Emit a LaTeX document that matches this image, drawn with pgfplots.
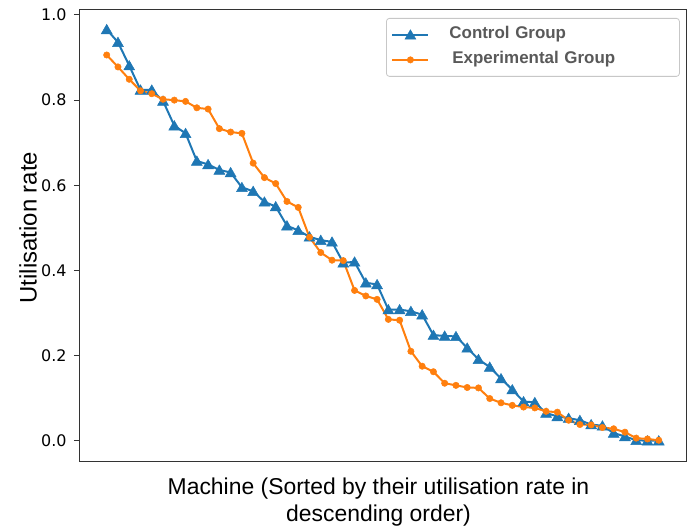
\documentclass[border=0pt]{standalone}
\usepackage{pgfplots}
\pgfplotsset{compat=1.18}
\usepackage{fontspec}
\setmainfont{Liberation Sans}
\newfontfamily\dejavu{DejaVu Sans}
\definecolor{mplblue}{HTML}{1F77B4}
\definecolor{mplorange}{HTML}{FF7F0E}
\definecolor{leggray}{HTML}{595959}
\definecolor{framegray}{HTML}{333333}
\begin{document}
\begin{tikzpicture}
\useasboundingbox (0,0) rectangle (696bp,528bp);
\begin{axis}[
  at={(79bp,67bp)}, anchor=south west,
  scale only axis, width=607bp, height=451.5bp,
  xmin=-1.459, xmax=52.42, ymin=-0.0477, ymax=1.0129,
  xtick=\empty,
  ytick={0,0.2,0.4,0.6,0.8,1.0},
  ytick pos=left,
  tick align=outside,
  major tick length=5bp,
  every tick/.style={framegray, line width=1bp},
  axis line style={framegray, line width=1bp},
  /pgf/number format/assume math mode=true,
  /pgf/number format/fixed, /pgf/number format/precision=1, /pgf/number format/fixed zerofill,
  yticklabel style={font=\dejavu\fontsize{16}{16}\selectfont, inner xsep=0pt, anchor=east, xshift=-7.3bp},
  ylabel={Utilisation rate},
  ylabel style={font=\fontsize{24}{24}\selectfont, at={(axis description cs:-0.069,0.517)}, anchor=south, inner sep=0pt, rotate=0},
  xlabel={Machine (Sorted by their utilisation rate in\\descending order)},
  xlabel style={font=\fontsize{23}{27}\selectfont, align=center, at={(axis description cs:0.4934,0)}, anchor=north, inner sep=0pt, yshift=-17bp},
  legend image code/.code={\draw[mark repeat=2,mark phase=2] plot coordinates {(0bp,0bp) (18bp,0bp) (36bp,0bp)};},
  legend cell align=left,
  legend style={at={(axis description cs:0.5058,0.9812)}, anchor=north west,
    draw=black!22, line width=0.8bp, rounded corners=3bp,
    inner xsep=5bp, inner ysep=8.5bp, row sep=9bp, column sep=20bp,
    font=\bfseries\fontsize{17}{17}\selectfont, text=leggray,
    nodes={inner xsep=0pt, inner ysep=0pt, text height=12bp, text depth=4bp, text width=225bp, align=left}},
]
\addplot[mplblue, line width=2bp, mark=triangle*, mark size=6.3bp, mark options={solid, fill=mplblue, line width=0.5bp, yshift=-1.2bp}] coordinates {
(1,0.966) (2,0.936) (3,0.881) (4,0.824) (5,0.824) (6,0.798) (7,0.740) (8,0.722) (9,0.657) (10,0.649)
(11,0.636) (12,0.630) (13,0.595) (14,0.586) (15,0.561) (16,0.550) (17,0.505) (18,0.494) (19,0.479) (20,0.471)
(21,0.467) (22,0.418) (23,0.420) (24,0.371) (25,0.367) (26,0.308) (27,0.308) (28,0.304) (29,0.296) (30,0.248)
(31,0.246) (32,0.245) (33,0.218) (34,0.191) (35,0.173) (36,0.146) (37,0.120) (38,0.092) (39,0.090) (40,0.065)
(41,0.057) (42,0.053) (43,0.048) (44,0.038) (45,0.035) (46,0.018) (47,0.010) (48,0.001) (49,0.000) (50,0.000)
};
\addlegendentry{Control Group}
\addplot[mplorange, line width=2bp, mark=*, mark size=3.2bp, mark options={solid, fill=mplorange, line width=0.5bp}] coordinates {
(1,0.906) (2,0.878) (3,0.849) (4,0.822) (5,0.815) (6,0.802) (7,0.800) (8,0.797) (9,0.782) (10,0.779)
(11,0.733) (12,0.725) (13,0.722) (14,0.652) (15,0.618) (16,0.604) (17,0.562) (18,0.548) (19,0.478) (20,0.442)
(21,0.424) (22,0.423) (23,0.353) (24,0.340) (25,0.332) (26,0.285) (27,0.283) (28,0.210) (29,0.175) (30,0.162)
(31,0.135) (32,0.130) (33,0.125) (34,0.124) (35,0.099) (36,0.089) (37,0.083) (38,0.079) (39,0.077) (40,0.069)
(41,0.067) (42,0.048) (43,0.038) (44,0.037) (45,0.031) (46,0.028) (47,0.020) (48,0.006) (49,0.004) (50,0.001)
};
\addlegendentry{\hspace{3bp}Experimental Group}
\end{axis}
\end{tikzpicture}
\end{document}
